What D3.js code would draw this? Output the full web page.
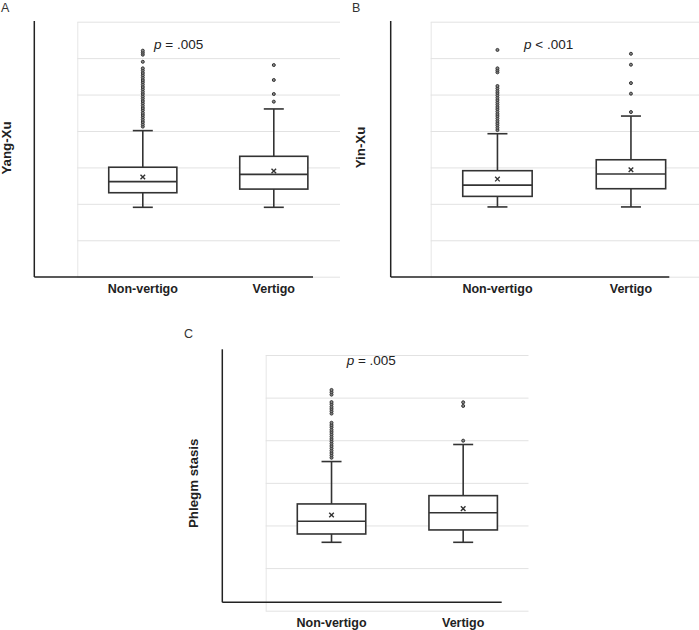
<!DOCTYPE html>
<html>
<head>
<meta charset="utf-8">
<script src="https://cdn.jsdelivr.net/npm/d3@7"></script>
<style>
  body { margin: 0; background: #fff; }
  text { font-family: "Liberation Sans", Arial, sans-serif; }
</style>
</head>
<body>
<div id="canvas"></div>
<script>
// categories + labels
const categories = ["Non-vertigo", "Vertigo"];
const panelLetters = ["A", "B", "C"];
const yTitles = ["Yang-Xu", "Yin-Xu", "Phlegm stasis"];
const pSigns = ["= .005", "< .001", "= .005"];

// grid ticks (no labels shown in the original)
const gridTicksAB = [0, 20, 40, 60, 80, 100, 120, 140];
const gridTicksC = [0, 20, 40, 60, 80, 100, 120];

// [min, q1, median, q3, max] per category
const yangXuStats = [[38.1, 46.1, 52.2, 60.1, 80.2], [38.1, 48.1, 56.2, 66.1, 92.1]];
const yangXuMeans = [54.7, 58.0];
const yangXuOutliers = [
  [82.4, 83.6, 84.9, 86.2, 87.5, 88.8, 90.0, 91.4, 92.6, 93.9, 95.2, 96.5, 97.8, 99.0,
   100.4, 101.6, 102.9, 104.2, 105.5, 106.8, 108.0, 109.3, 110.6, 111.9, 113.2, 114.4,
   118.0, 121.9, 123.0, 124.1],
  [96.1, 100.3, 108.0, 116.2]
];

const yinXuStats = [[38.3, 44.1, 50.3, 58.2, 78.5], [38.3, 48.3, 56.4, 64.2, 88.2]];
const yinXuMeans = [53.6, 58.7];
const yinXuOutliers = [
  [80.5, 81.8, 83.1, 84.3, 85.6, 86.9, 88.2, 89.4, 90.7, 92.0, 93.2, 94.5, 95.7, 97.0,
   98.3, 99.6, 100.9, 102.1, 103.4, 104.7, 112.2, 113.3, 114.4, 124.5],
  [90.4, 100.5, 106.3, 116.4, 122.4]
];

const phlegmStats = [[32.1, 36.0, 42.0, 50.1, 70.0], [32.1, 37.9, 46.0, 54.0, 78.0]];
const phlegmMeans = [44.9, 47.9];
const phlegmOutliers = [
  [71.8, 72.9, 74.0, 75.1, 76.2, 77.3, 78.4, 79.5, 80.6, 81.7, 82.8, 83.9, 84.9, 86.1,
   87.1, 88.2, 92.5, 93.6, 94.7, 95.7, 96.9, 97.9, 101.4, 102.5, 103.6],
  [79.8, 96.1, 97.8]
];

const svg = d3.select("#canvas")
  .append("svg")
  .attr("width", 699)
  .attr("height", 630);

const ink = "#333";

const dibujarPanel = (p) => {
  const y = d3.scaleLinear().domain(p.domain).range([p.bottom, p.top]);
  const x = d3.scaleBand().domain(categories).range([p.plotLeft, p.plotRight]);

  // light grid
  const grid = svg.append("g")
    .attr("transform", `translate(${p.plotLeft},0)`)
    .call(d3.axisLeft(y).tickValues(p.ticks).tickFormat("")
      .tickSize(-(p.gridRight - p.plotLeft)).tickSizeOuter(0));
  grid.selectAll(".tick line").attr("stroke", "#e2e2e2");
  grid.select(".domain").attr("stroke", "#e6e6e6");

  // category labels
  const xa = svg.append("g")
    .attr("transform", `translate(0,${p.bottom})`)
    .call(d3.axisBottom(x).tickSize(0).tickPadding(7.7));
  xa.select(".domain").remove();
  xa.selectAll("text")
    .style("font-family", "'Liberation Sans', Arial, sans-serif")
    .style("font-size", "12.5px")
    .style("font-weight", "bold")
    .attr("fill", "#222");

  // black axis lines
  svg.append("line")
    .attr("x1", p.axisX).attr("x2", p.axisX)
    .attr("y1", p.axisTop).attr("y2", p.axisY)
    .attr("stroke", "#222").attr("stroke-width", 1.5);
  svg.append("line")
    .attr("x1", p.axisX).attr("x2", p.axisEnd)
    .attr("y1", p.axisY).attr("y2", p.axisY)
    .attr("stroke", "#222").attr("stroke-width", 1.5);

  const bw = x.bandwidth() * 0.52;
  const capW = 10;

  categories.forEach((c, i) => {
    const [mn, q1, md, q3, mx] = p.stats[i];
    const cx = x(c) + x.bandwidth() / 2;
    const g = svg.append("g")
      .attr("stroke", ink)
      .attr("stroke-width", 1.6)
      .attr("fill", "none");

    // whiskers + caps
    g.append("line").attr("x1", cx).attr("x2", cx).attr("y1", y(mx)).attr("y2", y(q3));
    g.append("line").attr("x1", cx).attr("x2", cx).attr("y1", y(q1)).attr("y2", y(mn));
    g.append("line").attr("x1", cx - capW).attr("x2", cx + capW).attr("y1", y(mx)).attr("y2", y(mx));
    g.append("line").attr("x1", cx - capW).attr("x2", cx + capW).attr("y1", y(mn)).attr("y2", y(mn));

    g.append("rect")
      .attr("x", cx - bw / 2)
      .attr("y", y(q3))
      .attr("width", bw)
      .attr("height", y(q1) - y(q3))
      .attr("fill", "#fff");
    g.append("line").attr("x1", cx - bw / 2).attr("x2", cx + bw / 2)
      .attr("y1", y(md)).attr("y2", y(md));

    // mean marker
    const my = y(p.means[i]);
    g.append("path")
      .attr("d", `M${cx - 2.3},${my - 2.3}L${cx + 2.3},${my + 2.3}M${cx - 2.3},${my + 2.3}L${cx + 2.3},${my - 2.3}`)
      .attr("stroke-width", 1.4);

    svg.append("g").selectAll("circle")
      .data(p.outliers[i])
      .enter()
      .append("circle")
      .attr("cx", cx)
      .attr("cy", d => y(d))
      .attr("r", 1.5)
      .attr("fill", "#888")
      .attr("stroke", ink)
      .attr("stroke-width", 1);
  });

  // p value
  const pt = svg.append("text")
    .attr("x", p.pX).attr("y", p.pY)
    .attr("fill", "#222")
    .style("font-size", "13.5px");
  pt.append("tspan").style("font-style", "italic").text("p");
  pt.append("tspan").text(" " + p.sign);

  // y title
  svg.append("text")
    .attr("transform", `translate(${p.titleX},${p.titleY}) rotate(-90)`)
    .attr("text-anchor", "middle")
    .attr("fill", "#222")
    .style("font-size", "13.3px")
    .style("font-weight", "bold")
    .text(p.title);

  // panel letter
  svg.append("text")
    .attr("x", p.letterX).attr("y", p.letterY)
    .attr("fill", "#333")
    .style("font-size", "12.5px")
    .text(p.letter);
};

dibujarPanel({
  letter: panelLetters[0], letterX: 1, letterY: 12,
  title: yTitles[0], titleX: 11, titleY: 148,
  sign: pSigns[0], pX: 154, pY: 48.5,
  domain: [0, 140], ticks: gridTicksAB, top: 21.7, bottom: 276.7,
  plotLeft: 77.3, plotRight: 339.3, gridRight: 340,
  axisX: 34.3, axisTop: 21, axisY: 277, axisEnd: 313,
  stats: yangXuStats, means: yangXuMeans, outliers: yangXuOutliers
});

dibujarPanel({
  letter: panelLetters[1], letterX: 352, letterY: 12,
  title: yTitles[1], titleX: 365, titleY: 147.5,
  sign: pSigns[1], pX: 524, pY: 48.7,
  domain: [0, 140], ticks: gridTicksAB, top: 21.7, bottom: 276.7,
  plotLeft: 430.7, plotRight: 697.7, gridRight: 699,
  axisX: 390.7, axisTop: 21, axisY: 277, axisEnd: 669.3,
  stats: yinXuStats, means: yinXuMeans, outliers: yinXuOutliers
});

dibujarPanel({
  letter: panelLetters[2], letterX: 184, letterY: 338,
  title: yTitles[2], titleX: 198, titleY: 483.3,
  sign: pSigns[2], pX: 346.7, pY: 365,
  domain: [0, 120], ticks: gridTicksC, top: 355, bottom: 610.7,
  plotLeft: 265.7, plotRight: 529, gridRight: 528.5,
  axisX: 222.3, axisTop: 349.3, axisY: 602.3, axisEnd: 501.7,
  stats: phlegmStats, means: phlegmMeans, outliers: phlegmOutliers
});
</script>
</body>
</html>
